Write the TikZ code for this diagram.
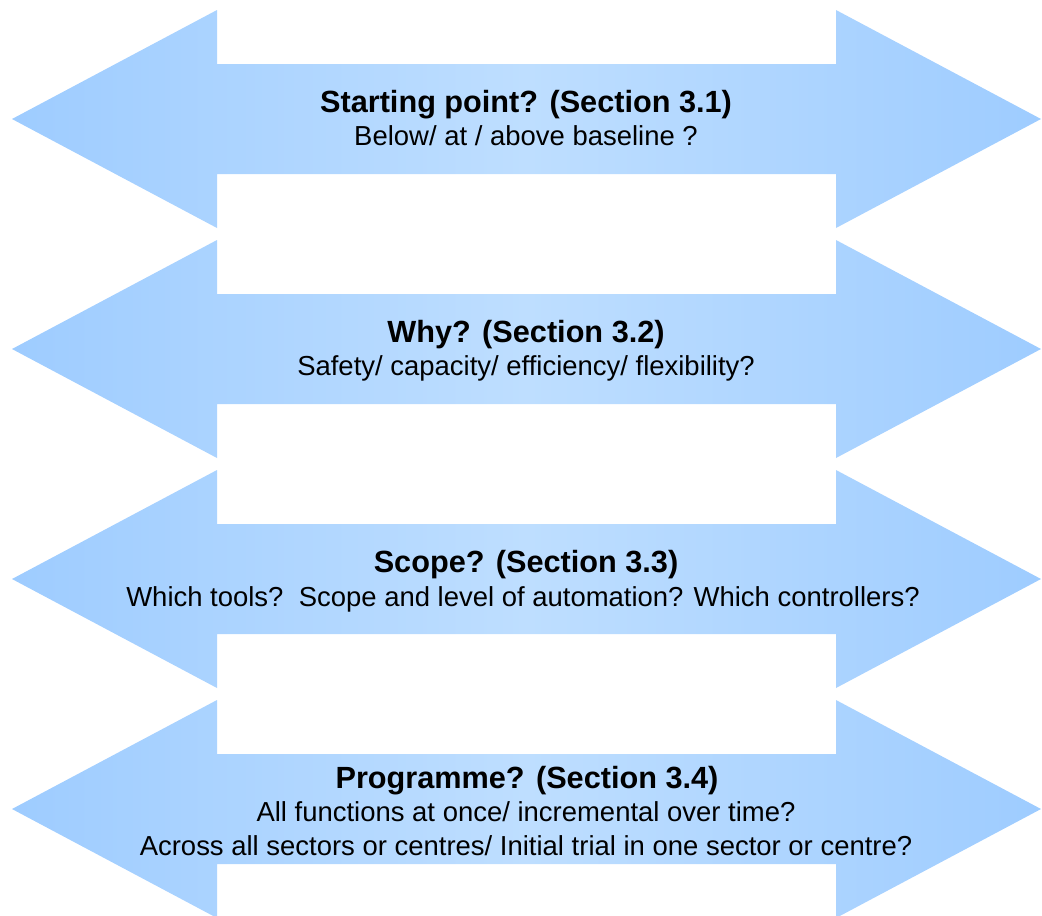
\documentclass[tikz,border=0pt]{standalone}
\usepackage{fontspec}
\setmainfont{Liberation Sans}
\definecolor{edgeblue}{RGB}{158,204,255}
\definecolor{midblue}{RGB}{190,222,255}
\begin{document}
\begin{tikzpicture}[x=0.75pt,y=-0.75pt,
  dblarrow/.style={left color=edgeblue,right color=edgeblue,middle color=midblue,draw=none},
  ttl/.style={anchor=base,inner sep=0pt,font=\fontsize{23}{27}\selectfont\bfseries},
  sub/.style={anchor=base,inner sep=0pt,font=\fontsize{20.6}{24}\selectfont},
]
\useasboundingbox (0,0) rectangle (1042,915);
\foreach \o in {0,230,460,690}{
  \path[dblarrow] (12,119+\o) -- (217,10+\o) -- (217,64+\o) -- (836,64+\o) -- (836,10+\o)
    -- (1041,119+\o) -- (836,228+\o) -- (836,174+\o) -- (217,174+\o) -- (217,228+\o) -- cycle;
}
\node[ttl] (t1) at (526,112) {Starting point? (Section 3.1)};
\node[sub] (s1) at (526,145) {Below/ at / above baseline ?};
\node[ttl] (t2) at (526,342) {Why? (Section 3.2)};
\node[sub] (s2) at (526,375) {Safety/ capacity/ efficiency/ flexibility?};
\node[ttl] (t3) at (526,572) {Scope? (Section 3.3)};
\node[sub] (s3) at (523,606) {Which tools?\ \ Scope and level of automation? Which controllers?};
\node[ttl] (t4) at (527,788) {Programme? (Section 3.4)};
\node[sub] (s4a) at (526,821) {All functions at once/ incremental over time?};
\node[sub] (s4b) at (526,855) {Across all sectors or centres/ Initial trial in one sector or centre?};
\end{tikzpicture}
\end{document}
